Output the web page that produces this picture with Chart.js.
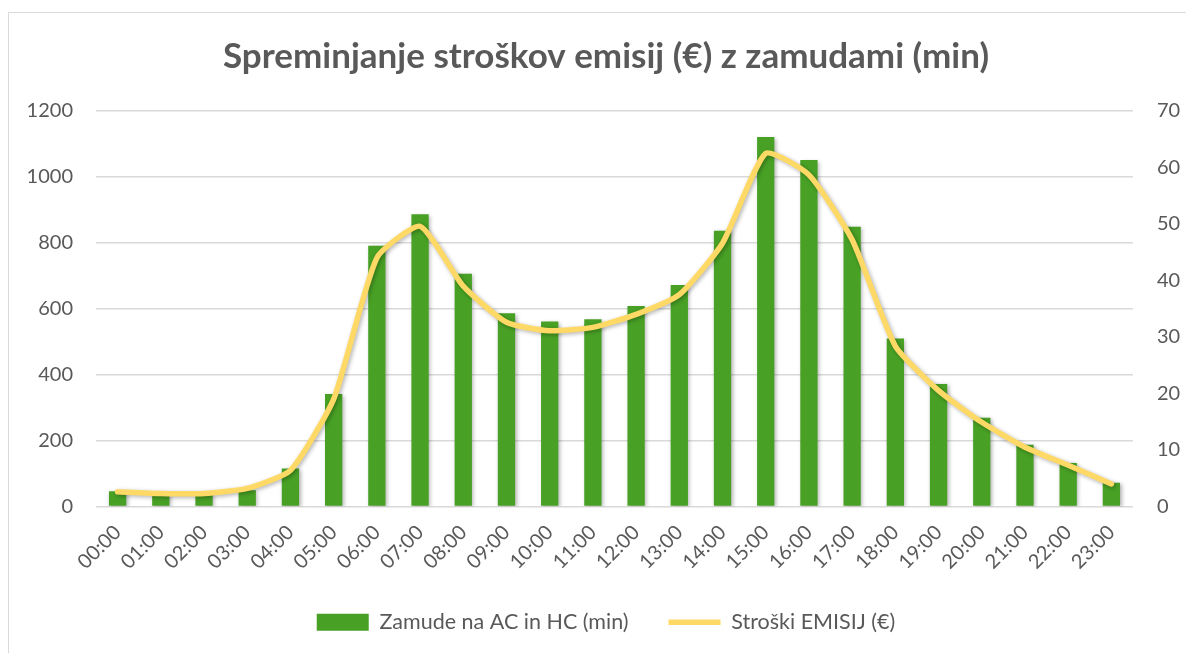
<!DOCTYPE html>
<html>
<head>
<meta charset="utf-8">
<script src="https://cdn.jsdelivr.net/npm/chart.js@4/dist/chart.umd.min.js"></script>
<style>
  html, body { margin: 0; padding: 0; background: #fff; overflow: hidden; }
  #frame { position: absolute; left: 8px; top: 12px; width: 1300px; height: 800px; border: 1px solid #d9d9d9; }
  #wrap { position: absolute; left: 0; top: 0; width: 1186px; height: 653px; }
</style>
</head>
<body>
<div id="frame"></div>
<div id="wrap"><canvas id="chart"></canvas></div>
<script>
// hours on the x axis
const hours = ['00:00','01:00','02:00','03:00','04:00','05:00','06:00','07:00','08:00','09:00','10:00','11:00',
               '12:00','13:00','14:00','15:00','16:00','17:00','18:00','19:00','20:00','21:00','22:00','23:00'];

// delays (min), left axis
const delays = [46, 40, 40, 49, 115, 341, 791, 887, 706, 586, 561, 568,
                608, 672, 837, 1121, 1051, 849, 510, 372, 269, 187, 132, 72];

// emission costs (EUR), right axis
const costs = [2.6, 2.3, 2.3, 3.2, 6.4, 19.0, 44.0, 49.6, 39.0, 32.6, 31.1, 31.7,
               34.0, 37.5, 46.6, 62.5, 58.7, 47.2, 28.4, 20.5, 14.9, 10.5, 7.3, 4.0];

const seriesNames = ['Zamude na AC in HC (min)', 'Stroški EMISIJ (€)'];

const FONT = 'Lato, "Open Sans", sans-serif';
const TEXT = '#595959';

// soft drop shadow like the office chart
const shadowPlugin = {
    id: 'shadow',
    beforeDatasetDraw(chart, args) {
        const ctx = chart.ctx;
        ctx.save();
        ctx.shadowColor = 'rgba(0,0,0,0.3)';
        ctx.shadowBlur = 4;
        ctx.shadowOffsetX = 1.5;
        ctx.shadowOffsetY = 1.5;
    },
    afterDatasetDraw(chart) {
        chart.ctx.restore();
    }
};

const ctx = document.getElementById('chart').getContext('2d');
new Chart(ctx, {
    data: {
        labels: hours,
        datasets: [
            {
                type: 'bar',
                label: seriesNames[0],
                data: delays,
                backgroundColor: '#48a125',
                borderWidth: 0,
                yAxisID: 'y',
                order: 1,
                pointStyle: 'rect',
                barPercentage: 0.4,
                categoryPercentage: 1.0
            },
            {
                type: 'line',
                label: seriesNames[1],
                data: costs,
                borderColor: '#ffd966',
                backgroundColor: '#ffd966',
                borderWidth: 5.5,
                borderCapStyle: 'round',
                borderJoinStyle: 'round',
                pointRadius: 0,
                pointStyle: 'line',
                tension: 0.18,
                yAxisID: 'y1',
                order: 0
            }
        ]
    },
    plugins: [shadowPlugin],
    options: {
        responsive: true,
        maintainAspectRatio: false,
        animation: false,
        layout: { padding: { left: 26, right: 0, top: 0, bottom: 10 } },
        plugins: {
            title: {
                display: true,
                text: 'Spreminjanje stroškov emisij (€) z zamudami (min)',
                color: TEXT,
                font: { family: FONT, size: 35, weight: 'bold' },
                padding: { top: 36, bottom: 33 }
            },
            legend: {
                position: 'bottom',
                labels: {
                    usePointStyle: true,
                    pointStyleWidth: 52,
                    boxHeight: 17,
                    padding: 40,
                    color: TEXT,
                    font: { family: FONT, size: 21.5 },
                    sort: (a, b) => a.datasetIndex - b.datasetIndex
                }
            },
            tooltip: { enabled: false }
        },
        scales: {
            x: {
                grid: { display: false },
                border: { display: false },
                ticks: {
                    color: TEXT,
                    font: { family: FONT, size: 20 },
                    maxRotation: 45,
                    minRotation: 45,
                    autoSkip: false,
                    padding: 6
                },
                afterFit(scale) { scale.height = 65; }
            },
            y: {
                position: 'left',
                min: 0,
                max: 1200,
                ticks: {
                    stepSize: 200,
                    color: TEXT,
                    font: { family: FONT, size: 20 },
                    padding: 23,
                    callback: v => String(v)
                },
                grid: { color: '#d9d9d9', lineWidth: 1.5, drawTicks: false },
                border: { display: false },
                afterFit(scale) { scale.width = 70; }
            },
            y1: {
                position: 'right',
                min: 0,
                max: 70,
                ticks: {
                    stepSize: 10,
                    color: TEXT,
                    font: { family: FONT, size: 20 },
                    padding: 24,
                    callback: v => String(v)
                },
                grid: { drawOnChartArea: false, drawTicks: false },
                border: { display: false },
                afterFit(scale) { scale.width = 53; }
            }
        }
    }
});
</script>
</body>
</html>
